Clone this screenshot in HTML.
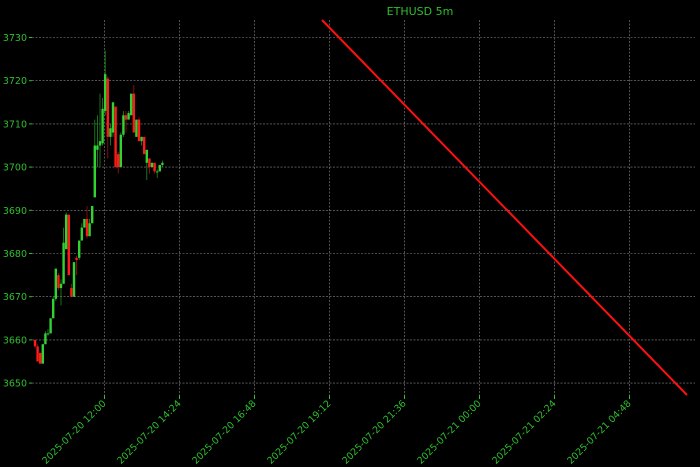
<!DOCTYPE html>
<html><head><meta charset="utf-8"><style>
html,body{margin:0;padding:0;background:#000;}
svg{display:block;}
text{font-family:"DejaVu Sans","Liberation Sans",sans-serif;fill:#2fbf2f;font-size:9.5px;}
</style></head><body>
<svg id="s" width="700" height="467" viewBox="0 0 700 467">
<rect width="700" height="467" fill="#000"/>
<text x="420" y="15" text-anchor="middle" font-size="11" style="font-size:11px">ETHUSD 5m</text>
<g stroke="#888" stroke-width="0.6" stroke-dasharray="2,1.5" id="grid">
</g>
<g id="ylab"></g>
<g id="xlab"></g>
<g id="candles"></g>
<line x1="322" y1="20" x2="687" y2="395" stroke="#ff1010" stroke-width="2"/>
</svg>
<script>
const NS="http://www.w3.org/2000/svg";
function el(t,a,p){const e=document.createElementNS(NS,t);for(const k in a)e.setAttribute(k,a[k]);p.appendChild(e);return e;}
const Y=p=>37.5+(3730-p)*4.32;
const g=document.getElementById('grid'),yl=document.getElementById('ylab'),xl=document.getElementById('xlab'),c=document.getElementById('candles');
for(let v=3650;v<=3730;v+=10){const y=Y(v);el('line',{x1:32,x2:695,y1:y,y2:y},g);el('line',{x1:29,x2:32,y1:y,y2:y,stroke:'#2fbf2f','stroke-width':1},yl);const t=el('text',{x:27,y:y+3.5,'text-anchor':'end'},yl);t.textContent=v;}
const xs=[104.5,179.5,254.5,329.5,404.5,479.5,554.5,629.5];
const lab=["2025-07-20 12:00","2025-07-20 14:24","2025-07-20 16:48","2025-07-20 19:12","2025-07-20 21:36","2025-07-21 00:00","2025-07-21 02:24","2025-07-21 04:48"];
xs.forEach((x,i)=>{el('line',{x1:x,x2:x,y1:20,y2:395},g);el('line',{x1:x,x2:x,y1:395,y2:399,stroke:'#2fbf2f','stroke-width':1},xl);const t=el('text',{x:x+2,y:404,'text-anchor':'end',transform:`rotate(-45 ${x+2} 404)`},xl);t.textContent=lab[i];});
const d=[[3660,3658.5,3660,3658],[3658.5,3655,3659,3655],[3657,3654.5,3657,3654.5],[3654.5,3659,3659,3654.5],[3659,3661.5,3662,3659],[3661.5,3661.5,3662.5,3661],[3661.5,3665,3665,3661.5],[3665,3669.5,3670,3665],[3669.5,3676.5,3676.5,3669],[3675,3672,3675.5,3671.5],[3672,3673,3674,3668],[3673,3682.5,3686,3673],[3681,3689,3689.5,3681],[3689,3675,3689,3675],[3672,3670,3673,3670],[3670,3678,3678,3670],[3679,3678.5,3679.5,3675],[3679,3683,3683,3678.5],[3683,3686,3687,3683],[3686,3688,3688,3686],[3688,3684,3691,3683.5],[3684,3687,3688,3684],[3687,3691,3691,3687],[3693,3705,3711,3693],[3704,3705,3712,3700],[3705,3706,3717,3700],[3705.5,3713.5,3716,3705],[3713,3721.5,3727,3712],[3720.5,3707,3721,3702],[3707,3709,3710,3705],[3708,3715,3715,3707],[3714,3700,3714,3700],[3703,3700,3703.5,3698.5],[3700,3707.5,3708,3700],[3707.5,3712,3713,3707],[3712,3711,3713,3708],[3711,3712.5,3713,3711],[3712,3717,3717,3712],[3717,3708,3719,3708],[3707,3711,3711,3707],[3711,3706,3711.5,3706],[3706,3707,3707,3705],[3707,3703,3707,3703],[3701,3704,3704,3697],[3702,3700,3702,3698.5],[3700,3701,3701,3700],[3701,3699,3701,3698.5],[3699,3699,3699.5,3697.5],[3699,3700.5,3700.5,3699],[3700.5,3701,3701.5,3700]];
d.forEach((k,i)=>{const x=35+i*2.6;const up=k[1]>=k[0];const col=up?'#32d232':'#ff1a1a';
el('line',{x1:x,x2:x,y1:Y(k[2]),y2:Y(k[3]),stroke:up?'#1f8f1f':'#a01010','stroke-width':0.8},c);
const t=Math.min(Y(k[0]),Y(k[1]));const h=Math.max(1,Math.abs(Y(k[0])-Y(k[1])));
el('rect',{x:x-1.2,y:t,width:2.4,height:h,fill:col},c);});
</script>
</body></html>
